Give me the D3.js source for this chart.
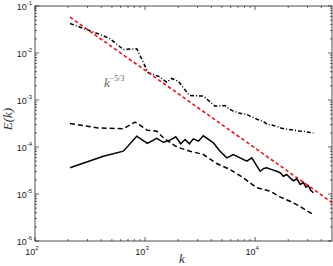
<!DOCTYPE html>
<html>
<head>
<meta charset="utf-8">
<script src="https://cdn.jsdelivr.net/npm/d3@7"></script>
<style>
  body { margin: 0; background: #fff; }
</style>
</head>
<body>
<div id="chart"></div>
<script>
// spectra
const kDashDot = [208, 390, 481, 635, 841, 1000, 1072, 1321, 1574, 1749, 2008, 2230, 2528, 3390, 4330, 5335, 5925, 6350, 7300, 8410, 9500, 10400, 11890, 13000, 14500, 16000, 17500, 19500, 22000, 25000, 28000, 31000, 33900];
const eDashDot = [0.0425, 0.0248, 0.0201, 0.0119, 0.0123, 0.00524, 0.00379, 0.00321, 0.00239, 0.00287, 0.00251, 0.00182, 0.00125, 0.00121, 7.4e-4, 7.6e-4, 6.3e-4, 5.8e-4, 5.2e-4, 4.9e-4, 4.3e-4, 3.9e-4, 3.5e-4, 3.0e-4, 2.9e-4, 2.7e-4, 2.5e-4, 2.4e-4, 2.3e-4, 2.2e-4, 2.15e-4, 2.05e-4, 2.0e-4];

const kDashed = [208, 364, 635, 811, 1050, 1277, 1467, 1941, 2566, 3390, 4485, 5925, 7835, 10360, 13670, 17000, 20800, 25000, 29000, 33880];
const eDashed = [3.16e-4, 2.56e-4, 2.44e-4, 3.40e-4, 2.28e-4, 2.17e-4, 1.57e-4, 1.0e-4, 8.15e-5, 6.92e-5, 4.45e-5, 3.32e-5, 2.21e-5, 1.36e-5, 1.15e-5, 8.6e-6, 7.0e-6, 5.6e-6, 4.5e-6, 3.66e-6];

const kSolid = [208, 418, 635, 841, 1050, 1277, 1467, 1687, 1901, 2110, 2310, 2528, 2749, 3053, 3390, 4180, 4805, 5530, 6350, 7310, 8410, 9335, 11100, 12000, 12760, 14200, 15730, 17000, 18070, 19400, 20800, 22300, 23930, 25700, 27490, 29000, 30500, 32000, 33880];
const eSolid = [3.61e-5, 6.37e-5, 8.15e-5, 1.70e-4, 1.19e-4, 1.52e-4, 1.26e-4, 1.40e-4, 1.65e-4, 1.17e-4, 1.44e-4, 1.17e-4, 1.49e-4, 1.33e-4, 1.73e-4, 1.23e-4, 8.15e-5, 5.89e-5, 6.92e-5, 5.89e-5, 4.99e-5, 5.89e-5, 3.05e-5, 3.5e-5, 3.61e-5, 3.3e-5, 3.05e-5, 2.8e-5, 2.39e-5, 2.6e-5, 2.2e-5, 1.9e-5, 2.1e-5, 1.6e-5, 1.75e-5, 1.4e-5, 1.5e-5, 1.2e-5, 1.06e-5];

// k^-5/3 reference line end points
const kRef = [208, 50000];
const eRef = [0.0578, 6.6e-6];

const xTicks = [100, 1000, 10000];
const yTicks = [1e-6, 1e-5, 1e-4, 1e-3, 1e-2, 1e-1];

const W = 333, H = 266;
const margin = {top: 6, right: 1, bottom: 25, left: 35};
const w = W - margin.left - margin.right;
const h = H - margin.top - margin.bottom;
const serif = "'Liberation Serif', 'DejaVu Serif', serif";
const sans = "'Liberation Sans', Arial, sans-serif";

const svg = d3.select("#chart").append("svg")
    .attr("width", W).attr("height", H);
const g = svg.append("g")
    .attr("transform", "translate(" + margin.left + "," + margin.top + ")");

const x = d3.scaleLog().domain([100, 50000]).range([0, w]);
const y = d3.scaleLog().domain([1e-6, 1e-1]).range([h, 0]);

// minor ticks for each decade
function minors(lo, hi) {
    const out = [];
    for (let p = Math.floor(Math.log10(lo)); p < Math.ceil(Math.log10(hi)); p++) {
        for (let m = 2; m <= 9; m++) {
            const v = m * Math.pow(10, p);
            if (v > lo && v < hi) out.push(v);
        }
    }
    return out;
}
const xMinor = minors(100, 50000);
const yMinor = minors(1e-6, 1e-1);

const tk = g.append("g").attr("stroke", "#222").attr("stroke-width", 0.7);
xTicks.forEach(function(v) {
    tk.append("line").attr("x1", x(v)).attr("x2", x(v)).attr("y1", h).attr("y2", h - 4);
    tk.append("line").attr("x1", x(v)).attr("x2", x(v)).attr("y1", 0).attr("y2", 4);
});
xMinor.forEach(function(v) {
    tk.append("line").attr("x1", x(v)).attr("x2", x(v)).attr("y1", h).attr("y2", h - 2);
    tk.append("line").attr("x1", x(v)).attr("x2", x(v)).attr("y1", 0).attr("y2", 2);
});
yTicks.forEach(function(v) {
    tk.append("line").attr("y1", y(v)).attr("y2", y(v)).attr("x1", 0).attr("x2", 4);
    tk.append("line").attr("y1", y(v)).attr("y2", y(v)).attr("x1", w).attr("x2", w - 4);
});
yMinor.forEach(function(v) {
    tk.append("line").attr("y1", y(v)).attr("y2", y(v)).attr("x1", 0).attr("x2", 2);
    tk.append("line").attr("y1", y(v)).attr("y2", y(v)).attr("x1", w).attr("x2", w - 2);
});

g.append("rect").attr("width", w).attr("height", h)
    .attr("fill", "none").attr("stroke", "#222").attr("stroke-width", 0.8);

// tick labels as 10^n
function powLabel(sel, v) {
    const e = Math.round(Math.log10(v));
    sel.append("tspan").text("10");
    sel.append("tspan").attr("font-size", 6).attr("dy", -5).text(e);
}
xTicks.forEach(function(v) {
    const t = g.append("text").attr("x", x(v) - 3).attr("y", h + 14)
        .style("font-family", sans).attr("font-size", 9)
        .attr("text-anchor", "middle").attr("fill", "#222");
    powLabel(t, v);
});
yTicks.forEach(function(v) {
    const t = g.append("text").attr("x", -3).attr("y", y(v) + 4)
        .style("font-family", sans).attr("font-size", 9)
        .attr("text-anchor", "end").attr("fill", "#222");
    powLabel(t, v);
});

const line = d3.line().x(function(d) { return x(d[0]); }).y(function(d) { return y(d[1]); });

g.append("path").datum(d3.zip(kSolid, eSolid))
    .attr("fill", "none").attr("stroke", "#000").attr("stroke-width", 1.5)
    .attr("d", line);
g.append("path").datum(d3.zip(kDashed, eDashed))
    .attr("fill", "none").attr("stroke", "#000").attr("stroke-width", 1.5)
    .attr("stroke-dasharray", "5,3").attr("d", line);
g.append("path").datum(d3.zip(kDashDot, eDashDot))
    .attr("fill", "none").attr("stroke", "#000").attr("stroke-width", 1.5)
    .attr("stroke-dasharray", "4,2,1,2").attr("d", line);
g.append("path").datum(d3.zip(kRef, eRef))
    .attr("fill", "none").attr("stroke", "#e8141c").attr("stroke-width", 1.6)
    .attr("stroke-dasharray", "3.5,2.5").attr("d", line);

// annotation k^-5/3
const ann = svg.append("text").attr("x", 104).attr("y", 87)
    .attr("fill", "#666").style("font-family", serif).attr("font-size", 13);
ann.append("tspan").attr("font-style", "italic").text("k");
ann.append("tspan").attr("font-size", 8).attr("dy", -6).text("\u22125/3");

// axis labels
svg.append("text").attr("x", 182).attr("y", 263)
    .attr("text-anchor", "middle").style("font-family", serif)
    .attr("font-style", "italic").attr("font-size", 13).attr("fill", "#333").text("k");
svg.append("text").attr("transform", "translate(12,119) rotate(-90)")
    .attr("text-anchor", "middle").style("font-family", serif)
    .attr("font-style", "italic").attr("font-size", 13).attr("fill", "#333").text("E(k)");
</script>
</body>
</html>
